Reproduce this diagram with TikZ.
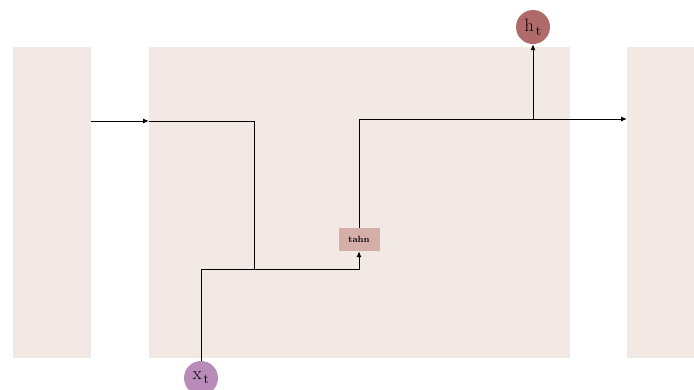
\documentclass[tikz,border=0pt]{standalone}
\usepackage{fontspec}
\usepackage{tikz}
\usetikzlibrary{arrows.meta,positioning,calc}

\definecolor{cellbg}{HTML}{F2E8E4}
\definecolor{actfill}{HTML}{D4AEA7}
\definecolor{outfill}{HTML}{B06A6A}
\definecolor{infill}{HTML}{B98BB9}

% subscript set almost full size, as in the state labels
\newcommand{\vecsub}[2]{#1\kern2pt\raisebox{-0.5ex}{\fontsize{14}{15}\selectfont #2}}

\begin{document}
\begin{tikzpicture}[
    x=1pt, y=-1pt,
    cell/.style={rectangle, fill=cellbg, draw=none, anchor=north west, inner sep=0pt, minimum height=311pt},
    actbox/.style={rectangle, fill=actfill, draw=none, minimum width=41pt, minimum height=23pt, inner sep=0pt, font=\fontsize{9}{10}\selectfont\bfseries},
    vec/.style={circle, draw=none, minimum size=34pt, inner sep=0pt, font=\fontsize{18}{19}\selectfont},
    line/.style={line width=1pt, draw=black},
    flow/.style={line, -{Latex[length=6pt,width=5pt]}}
]
    \useasboundingbox (0,0) rectangle (694,389);

    % neighbouring cells and the cell itself
    \node [cell, minimum width=78pt] (prev) at (13,47) {};
    \node [cell, minimum width=421pt] (cell) at (149,47) {};
    \node [cell, minimum width=67pt] (next) at (627,47) {};

    \node [actbox] (act) at (359,239.5) {tahn};
    \node [vec, fill=infill] (xt) at (201,378) {\vecsub{x}{t}};
    \node [vec, fill=outfill] (ht) at (533,27) {\vecsub{h}{t}};

    \coordinate (skip) at (254,121);
    \coordinate (merge) at (254,269);
    \coordinate (rise) at (359,269);
    \coordinate (out) at (359,119);
    \coordinate (tap) at (533,119);

    \draw [flow] (prev.east |- skip) -- (cell.west |- skip);
    \draw [line] (cell.west |- skip) -- (skip) -- (merge);
    \draw [flow] (xt) -- (xt |- merge) -- (rise) -- (act);
    \draw [flow] (act) -- (out) -- (next.west |- out);
    \draw [flow] (tap) -- (ht);
\end{tikzpicture}
\end{document}
